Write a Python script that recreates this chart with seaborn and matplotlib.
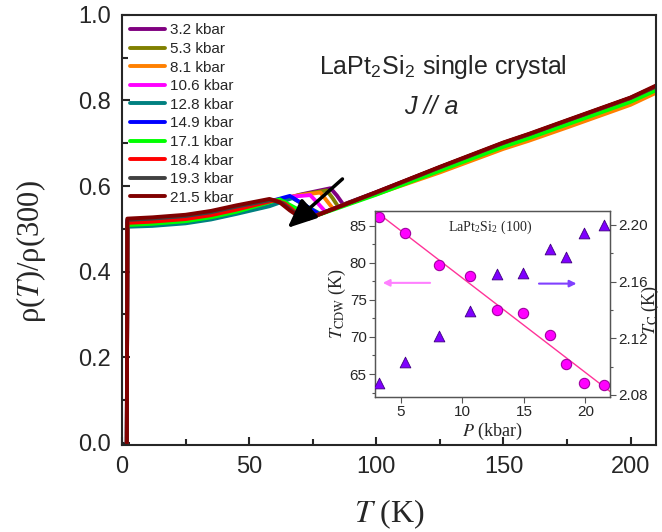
import matplotlib
matplotlib.use("Agg")
import matplotlib.pyplot as plt
from matplotlib.ticker import MultipleLocator
import seaborn as sns
import pandas as pd

# rho(T)/rho(300) curves, one pair of lists per pressure
T_32 = [1.9, 2.1, 12, 25, 35, 45, 58, 70, 82, 84.5, 87, 100, 125, 150, 160, 175, 200, 210]
r_32 = [0.0, 0.514, 0.517, 0.523, 0.532, 0.546, 0.560, 0.580, 0.595, 0.578, 0.557, 0.586, 0.644, 0.700, 0.720, 0.752, 0.806, 0.833]
T_53 = [1.9, 2.1, 12, 25, 35, 45, 58, 70, 80.5, 82.8, 85, 100, 125, 150, 160, 175, 200, 210]
r_53 = [0.0, 0.514, 0.517, 0.523, 0.532, 0.546, 0.560, 0.579, 0.590, 0.572, 0.552, 0.585, 0.642, 0.698, 0.718, 0.750, 0.803, 0.830]
T_81 = [1.9, 2.1, 12, 25, 35, 45, 58, 68, 78, 80.5, 83, 100, 125, 150, 160, 175, 200, 210]
r_81 = [0.0, 0.513, 0.516, 0.522, 0.531, 0.545, 0.559, 0.577, 0.585, 0.566, 0.547, 0.581, 0.632, 0.687, 0.706, 0.737, 0.790, 0.818]
T_106 = [1.9, 2.1, 12, 25, 35, 45, 58, 66, 74, 77, 80, 100, 125, 150, 160, 175, 200, 210]
r_106 = [0.0, 0.514, 0.517, 0.523, 0.532, 0.546, 0.560, 0.575, 0.579, 0.560, 0.540, 0.584, 0.642, 0.699, 0.719, 0.751, 0.804, 0.831]
T_128 = [1.9, 2.1, 12, 25, 35, 45, 58, 67, 72.5, 78, 100, 125, 150, 160, 175, 200, 210]
r_128 = [0.0, 0.505, 0.507, 0.513, 0.522, 0.535, 0.553, 0.572, 0.553, 0.535, 0.584, 0.641, 0.698, 0.718, 0.750, 0.803, 0.830]
T_149 = [1.9, 2.1, 12, 25, 35, 45, 58, 66, 72, 77.5, 100, 125, 150, 160, 175, 200, 210]
r_149 = [0.0, 0.519, 0.522, 0.528, 0.537, 0.550, 0.564, 0.577, 0.555, 0.534, 0.585, 0.643, 0.700, 0.720, 0.752, 0.805, 0.832]
T_171 = [1.9, 2.1, 12, 25, 35, 45, 62, 68.5, 75, 100, 125, 150, 160, 175, 200, 210]
r_171 = [0.0, 0.509, 0.512, 0.518, 0.527, 0.540, 0.569, 0.548, 0.528, 0.580, 0.636, 0.692, 0.712, 0.744, 0.797, 0.824]
T_184 = [1.9, 2.1, 12, 25, 35, 45, 60, 64, 68, 73.5, 100, 125, 150, 160, 175, 200, 210]
r_184 = [0.0, 0.514, 0.517, 0.523, 0.532, 0.545, 0.567, 0.559, 0.540, 0.525, 0.585, 0.644, 0.701, 0.721, 0.753, 0.806, 0.833]
T_193 = [1.9, 2.1, 12, 25, 35, 45, 59, 63, 67, 73, 100, 125, 150, 160, 175, 200, 210]
r_193 = [0.0, 0.521, 0.524, 0.530, 0.539, 0.552, 0.568, 0.560, 0.541, 0.524, 0.585, 0.644, 0.701, 0.721, 0.753, 0.806, 0.833]
T_215 = [1.9, 2.1, 12, 25, 35, 45, 58, 62, 66, 70, 73, 100, 125, 150, 160, 175, 200, 210]
r_215 = [0.0, 0.524, 0.527, 0.533, 0.542, 0.555, 0.570, 0.562, 0.543, 0.527, 0.523, 0.586, 0.645, 0.702, 0.722, 0.754, 0.807, 0.835]

labels = ["3.2 kbar", "5.3 kbar", "8.1 kbar", "10.6 kbar", "12.8 kbar",
          "14.9 kbar", "17.1 kbar", "18.4 kbar", "19.3 kbar", "21.5 kbar"]
colors = ["#800080", "#808000", "#FF8000", "#FF00FF", "#008080",
          "#0000FF", "#00FF00", "#FF0000", "#404040", "#800000"]
curves = [(T_32, r_32), (T_53, r_53), (T_81, r_81), (T_106, r_106), (T_128, r_128),
          (T_149, r_149), (T_171, r_171), (T_184, r_184), (T_193, r_193), (T_215, r_215)]

# inset: CDW transition and superconducting Tc vs pressure
P = [3.2, 5.3, 8.1, 10.6, 12.8, 14.9, 17.1, 18.4, 19.9, 21.5]
T_cdw = [86.2, 84.0, 79.7, 78.2, 73.7, 73.3, 70.2, 66.4, 63.8, 63.5]
T_c = [2.0885, 2.1030, 2.1215, 2.1395, 2.1650, 2.1660, 2.1830, 2.1775, 2.1940, 2.2000]

sns.set_style("ticks")
plt.rcParams['font.family'] = ['Liberation Sans', 'DejaVu Sans']
plt.rcParams['mathtext.fontset'] = 'stix'

fig = plt.figure(figsize=(6.62, 5.32), dpi=100)
ax = fig.add_axes([0.1843, 0.1635, 0.8067, 0.8085])

for (t, r), lab, c in zip(curves, labels, colors):
    df = pd.DataFrame({"T": t, "rho": r})
    sns.lineplot(data=df, x="T", y="rho", ax=ax, color=c, lw=2.8, label=lab,
                 estimator=None, sort=False)

ax.set_xlim(0, 210)
ax.set_ylim(-0.005, 1.0)
ax.xaxis.set_major_locator(MultipleLocator(50))
ax.xaxis.set_minor_locator(MultipleLocator(25))
ax.yaxis.set_major_locator(MultipleLocator(0.2))
ax.yaxis.set_minor_locator(MultipleLocator(0.1))
ax.yaxis.set_major_formatter(plt.FormatStrFormatter('%.1f'))
ax.tick_params(which='both', direction='in', width=1.5, labelsize=17, pad=8)
ax.tick_params(which='major', length=6)
ax.tick_params(which='minor', length=4)
for s in ax.spines.values():
    s.set_linewidth(1.5)
ax.set_xlabel(r"$\mathit{T}$ (K)", fontsize=23, family='Liberation Serif', labelpad=14)
ax.set_ylabel(r"ρ($\mathit{T}$)/ρ(300)", fontsize=22, family='Liberation Serif')
ax.yaxis.set_label_coords(-0.138, 0.45)

ax.legend(loc='upper left', bbox_to_anchor=(0.015, 0.98), frameon=False, fontsize=11,
          handlelength=2.3, handletextpad=0.3, labelspacing=0.3, borderpad=0, borderaxespad=0)

ax.text(0.601, 0.878, r"LaPt$_\mathregular{2}$Si$_\mathregular{2}$ single crystal",
        transform=ax.transAxes, ha='center', va='center', fontsize=18)
ax.text(0.58, 0.786, "J // a", style='italic', transform=ax.transAxes,
        ha='center', va='center', fontsize=18)
ax.annotate('', xy=(64.3, 0.498), xytext=(87.5, 0.621),
            arrowprops=dict(arrowstyle='-|>,head_length=0.8,head_width=0.35',
                            lw=2.5, color='k', mutation_scale=22))

# inset
ax2 = fig.add_axes([0.5665, 0.2538, 0.355, 0.3496])
ax3 = ax2.twinx()
ax2.set_xlim(2.9, 22.0)
ax2.set_ylim(61.9, 87.0)
ax3.set_ylim(2.0786, 2.2098)

sns.regplot(x=P, y=T_cdw, ax=ax2, scatter=False, ci=None, truncate=False,
            line_kws=dict(color='#FF3399', lw=1.0))
sns.scatterplot(x=P, y=T_cdw, ax=ax2, marker='o', s=55, color='#FF00FF',
                edgecolor='#A000A0', linewidth=0.8, zorder=3)
sns.scatterplot(x=P, y=T_c, ax=ax3, marker='^', s=60, color='#7F00FF',
                edgecolor='#400080', linewidth=0.6, zorder=3)

ax2.annotate('', xy=(3.3, 77.3), xytext=(7.6, 77.3),
             arrowprops=dict(arrowstyle='-|>', color='#FF80FF', lw=1.5))
ax2.annotate('', xy=(19.5, 77.2), xytext=(16.0, 77.2),
             arrowprops=dict(arrowstyle='-|>', color='#8040FF', lw=1.5))

ax2.text(0.49, 0.91, r"LaPt$_\mathregular{2}$Si$_\mathregular{2}$ (100)", transform=ax2.transAxes,
         ha='center', va='center', fontsize=10, family='Liberation Serif')

ax2.xaxis.set_major_locator(MultipleLocator(5))
ax2.yaxis.set_major_locator(MultipleLocator(5))
ax2.yaxis.set_minor_locator(MultipleLocator(2.5))
ax3.yaxis.set_major_locator(MultipleLocator(0.04))
ax3.yaxis.set_minor_locator(MultipleLocator(0.02))
ax3.yaxis.set_major_formatter(plt.FormatStrFormatter('%.2f'))
for a in (ax2, ax3):
    a.tick_params(which='both', direction='out', labelsize=11, width=0.8, color='#555555', pad=2)
    a.tick_params(which='major', length=4)
    a.tick_params(which='minor', length=2.5)
    for s in a.spines.values():
        s.set_color('#555555')
        s.set_linewidth(0.9)
ax2.set_xlabel(r"$\mathit{P}$ (kbar)", fontsize=13, family='Liberation Serif', labelpad=1)
ax2.set_ylabel(r"$\mathit{T}_\mathrm{CDW}$ (K)", fontsize=13, family='Liberation Serif', labelpad=1)
ax3.set_ylabel(r"$\mathit{T}_\mathrm{C}$ (K)", fontsize=13, family='Liberation Serif')
ax3.yaxis.set_label_coords(1.125, 0.47)

fig.savefig("out.png", dpi=100)
